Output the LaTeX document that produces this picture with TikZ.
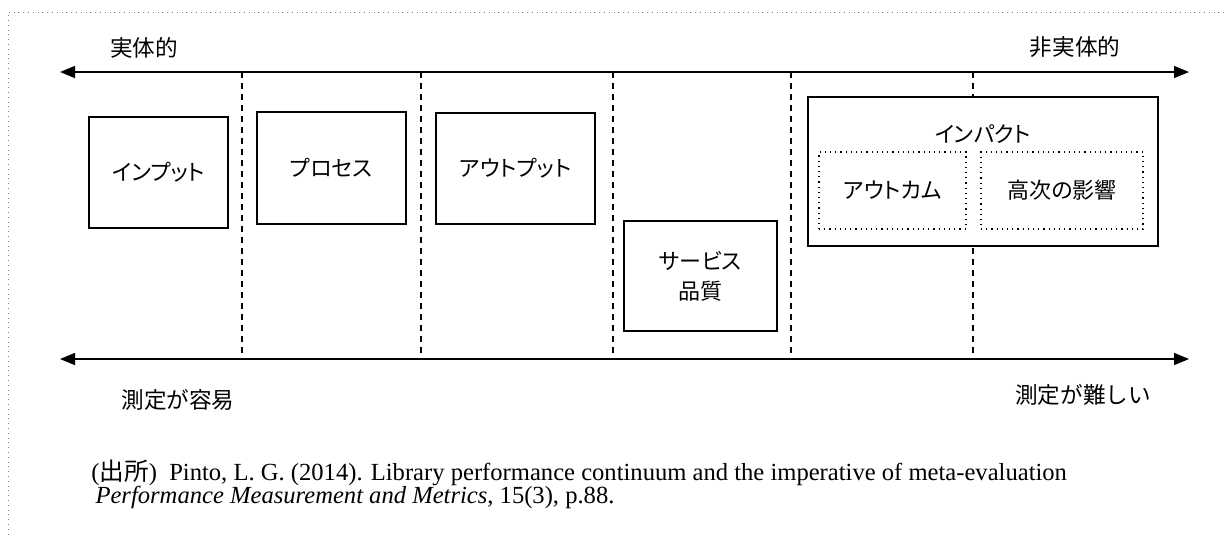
\documentclass[tikz,border=0pt]{standalone}
\usepackage{fontspec}
\setmainfont{Liberation Serif}
\newfontfamily\jp{Noto Sans CJK JP}
\newfontfamily\jpkana[RawFeature=+palt]{Noto Sans CJK JP}
\usetikzlibrary{arrows.meta}
\begin{document}
\begin{tikzpicture}[x=0.5pt,y=-0.5pt,line width=0.75pt,
  >={Triangle[length=7.5pt,width=6pt]},
  stage/.style={draw,line width=1pt,inner sep=0pt,font=\jpkana\fontsize{11}{13}\selectfont,align=center},
  sub/.style={draw,dotted,line width=0.6pt,inner sep=0pt,font=\jpkana\fontsize{11}{13}\selectfont},
  axislabel/.style={font=\jp\fontsize{11.3}{14}\selectfont},
  divider/.style={dashed,dash pattern=on 3pt off 2.5pt}]
\useasboundingbox (0,0) rectangle (1224,537);
% frame
\draw[gray,dotted,line width=0.4pt] (1224,12) -- (8,12) -- (8,537);
% axis ends
\coordinate(tl) at (60,72); \coordinate(tr) at (1189,72);
\coordinate(bl) at (60,359); \coordinate(br) at (1189,359);
\draw[<->] (tl) -- (tr);
\draw[<->] (bl) -- (br);
% stage dividers
\foreach \x in {242,421,613,791,973}
  \draw[divider] (\x,72) -- (\x,359);
% stages
\node[stage,minimum width=69.5pt,minimum height=55.5pt](in)  at (158.5,172.5) {インプット};
\node[stage,minimum width=74.5pt,minimum height=56pt](proc)  at (331.5,168) {プロセス};
\node[stage,minimum width=79.5pt,minimum height=55.5pt](out)  at (515.5,168.5) {アウトプット};
\node[stage,minimum width=76.5pt,minimum height=55pt](sq)   at (700.5,276) {サービス\\[2pt]品質};
\node[stage,fill=white,minimum width=175pt,minimum height=74.5pt](imp) at (983,171.5) {};
\node[font=\jpkana\fontsize{11}{13}\selectfont](impl) at (983,134) {インパクト};
\node[sub,fill=white,minimum width=73.5pt,minimum height=38.5pt](oc) at (892.5,190.5) {アウトカム};
\node[sub,fill=white,minimum width=81pt,minimum height=38.5pt](hi) at (1062,190.5) {高次の影響};
% axis labels
\node[axislabel](tan)  at (144,48)  {実体的};
\node[axislabel](intan) at (1075,47) {非実体的};
\node[axislabel](easy) at (178,400) {測定が容易};
\node[axislabel](hard) at (1083,395) {測定が難しい};
% source
\node[anchor=west,align=left,font=\fontsize{12.3}{11.5}\selectfont](src) at (84,484)
  {({\jp 出所})\ \ Pinto, L. G. (2014). Library performance continuum and the imperative of meta-evaluation\\
   \,\textit{Performance Measurement and Metrics}, 15(3), p.88.};
\end{tikzpicture}
\end{document}
